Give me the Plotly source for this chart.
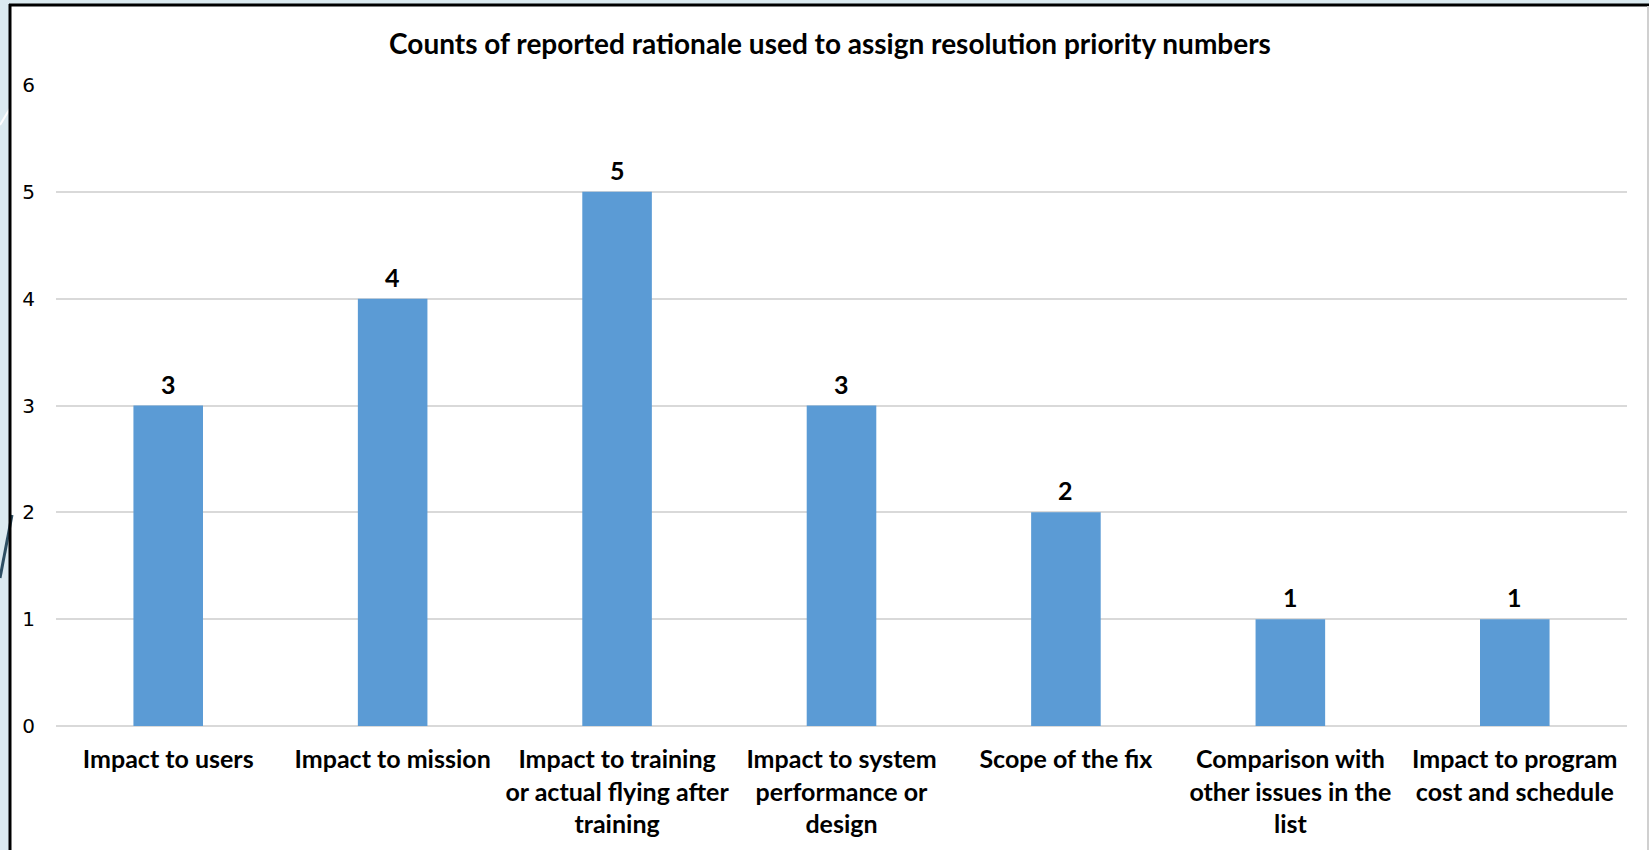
import plotly.graph_objects as go

categories = [
    "Impact to users",
    "Impact to mission",
    "Impact to training<br>or actual flying after<br>training",
    "Impact to system<br>performance or<br>design",
    "Scope of the fix",
    "Comparison with<br>other issues in the<br>list",
    "Impact to program<br>cost and schedule",
]
counts = [3, 4, 5, 3, 2, 1, 1]
y_ticks = [0, 1, 2, 3, 4, 5, 6]

W, H = 1649, 850
L, R, T, B = 56, 22, 85, 124
pw = W - L - R
ph = H - T - B


def px_x(px):
    return (px - L) / pw


def px_y(py):
    return (H - B - py) / ph


fig = go.Figure()
fig.add_trace(go.Bar(
    x=categories, y=counts,
    marker=dict(color="#5b9bd5", line=dict(width=0)),
    hoverinfo="skip",
))

annotations = [
    dict(x=c, y=v, xref="x", yref="y", text=f"<b>{v}</b>", showarrow=False,
         yanchor="middle", yshift=22,
         font=dict(family="Lato", size=25, color="#000000"))
    for c, v in zip(categories, counts)
]

shapes = [
    dict(type="rect", xref="paper", yref="paper", layer="below",
         x0=px_x(10), x1=px_x(1648), y0=px_y(860), y1=px_y(5),
         fillcolor="#ffffff", line=dict(width=0)),
    dict(type="line", xref="paper", yref="paper", layer="below",
         x0=px_x(0), x1=px_x(12), y0=px_y(578), y1=px_y(515),
         line=dict(color="#2d4f63", width=3)),
    dict(type="line", xref="paper", yref="paper", layer="below",
         x0=px_x(0), x1=px_x(12), y0=px_y(125), y1=px_y(105),
         line=dict(color="#ffffff", width=2)),
    dict(type="line", xref="paper", yref="paper",
         x0=px_x(10), x1=px_x(10), y0=px_y(860), y1=px_y(4),
         line=dict(color="#000000", width=3)),
    dict(type="line", xref="paper", yref="paper",
         x0=px_x(9), x1=px_x(1649), y0=px_y(5), y1=px_y(5),
         line=dict(color="#000000", width=3)),
    dict(type="line", xref="paper", yref="paper",
         x0=px_x(1648), x1=px_x(1648), y0=px_y(860), y1=px_y(6),
         line=dict(color="#d0d0d0", width=2)),
]

fig.update_layout(
    width=W, height=H,
    margin=dict(l=L, r=R, t=T, b=B),
    paper_bgcolor="#dbeaf0",
    plot_bgcolor="rgba(0,0,0,0)",
    showlegend=False,
    bargap=0.69,
    shapes=shapes,
    annotations=annotations,
    title=dict(
        text="Counts of reported rationale used to assign resolution priority numbers",
        x=px_x(830), xref="paper", xanchor="center",
        y=1 - 44 / H, yref="container", yanchor="middle",
        font=dict(family="Lato", size=28, color="#000000", weight="bold"),
    ),
    xaxis=dict(
        tickfont=dict(family="Lato", size=25, color="#000000", weight="bold"),
        showgrid=False, showline=False, zeroline=False,
        ticks="", ticklabelstandoff=16,
    ),
    yaxis=dict(
        range=[0, 6], tickvals=y_ticks,
        tickfont=dict(family="DejaVu Sans", size=20, color="#000000"),
        showgrid=True, gridcolor="#d9d9d9", gridwidth=1.5,
        zeroline=True, zerolinecolor="#d9d9d9", zerolinewidth=1.5,
        showline=False, ticks="", ticklabelstandoff=20,
    ),
)

fig.write_html("out.html")
